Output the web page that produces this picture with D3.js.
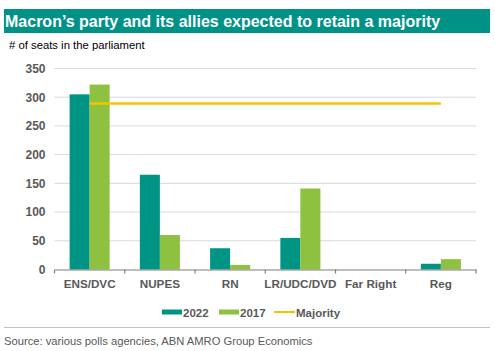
<!DOCTYPE html>
<html>
<head>
<meta charset="utf-8">
<script src="https://cdn.jsdelivr.net/npm/d3@7"></script>
<style>
  body { margin: 0; background: #fff; }
  svg { font-family: "Liberation Sans", Arial, sans-serif; }
</style>
</head>
<body>
<div id="chart"></div>
<script>
// chart data
var parties = ["ENS/DVC", "NUPES", "RN", "LR/UDC/DVD", "Far Right", "Reg"];
var seats2022 = [305, 165, 37, 55, 0, 10];
var seats2017 = [322, 60, 8, 141, 0, 18];
var majority = 289;
var yTicks = [0, 50, 100, 150, 200, 250, 300, 350];

var svgWidth = 495;
var svgHeight = 351;

var margin = { top: 68.5, right: 19, bottom: 81.5, left: 54.5 };
var width = svgWidth - margin.left - margin.right;
var height = svgHeight - margin.top - margin.bottom;

var svg = d3.select("#chart")
  .append("svg")
  .attr("width", svgWidth)
  .attr("height", svgHeight);

// title band
svg.append("rect")
  .attr("x", 4).attr("y", 9)
  .attr("width", 486).attr("height", 24)
  .attr("fill", "#009286");

svg.append("text")
  .attr("x", 5).attr("y", 27)
  .attr("fill", "#fff")
  .style("font-size", "16px")
  .style("font-weight", "bold")
  .text("Macron\u2019s party and its allies expected to retain a majority");

svg.append("text")
  .attr("x", 9).attr("y", 49)
  .attr("fill", "#000")
  .style("font-size", "11.3px")
  .text("# of seats in the parliament");

var chartGroup = svg.append("g")
  .attr("transform", `translate(${margin.left}, ${margin.top})`);

var x0 = d3.scaleBand()
  .domain(parties)
  .range([0, width])
  .paddingInner(0.43)
  .paddingOuter(0.215);

var xAxisScale = d3.scaleBand()
  .domain(parties)
  .range([0, width]);

var x1 = d3.scaleBand()
  .domain(["2022", "2017"])
  .range([0, x0.bandwidth()]);

var y = d3.scaleLinear()
  .domain([0, 350])
  .range([height, 0]);

// gridlines
chartGroup.selectAll(".grid")
  .data(yTicks.slice(1))
  .enter()
  .append("line")
  .attr("x1", 0).attr("x2", width)
  .attr("y1", d => y(d)).attr("y2", d => y(d))
  .attr("stroke", "#d9d9d9")
  .attr("stroke-width", 1);

// y labels
var leftAxis = d3.axisLeft(y).tickValues(yTicks).tickSize(0).tickPadding(9);
var yAxisG = chartGroup.append("g").call(leftAxis);
yAxisG.select(".domain").remove();
yAxisG.selectAll("text")
  .attr("fill", "#595959")
  .style("font-size", "12px")
  .style("font-weight", "bold")
  .style("font-family", "'Liberation Sans', Arial, sans-serif");

// bars
var series = [
  { key: "2022", values: seats2022, color: "#009484" },
  { key: "2017", values: seats2017, color: "#8dc13f" }
];

series.forEach(function(s) {
  chartGroup.selectAll(".bar" + s.key)
    .data(parties)
    .enter()
    .append("rect")
    .attr("x", d => x0(d) + x1(s.key))
    .attr("y", (d, i) => y(s.values[i]))
    .attr("width", x1.bandwidth())
    .attr("height", (d, i) => height - y(s.values[i]))
    .attr("fill", s.color);
});

// majority line
var line = d3.line()
  .x(d => xAxisScale(d) + xAxisScale.bandwidth() / 2)
  .y(() => y(majority));

chartGroup.append("path")
  .datum(parties)
  .attr("d", line)
  .attr("fill", "none")
  .attr("stroke", "#f5c400")
  .attr("stroke-width", 2.5);

// x axis
var bottomAxis = d3.axisBottom(xAxisScale).tickSize(0).tickPadding(10);
var xAxisG = chartGroup.append("g")
  .attr("transform", `translate(0, ${height})`)
  .call(bottomAxis);
xAxisG.select(".domain").attr("stroke", "#7f7f7f").attr("stroke-width", 1.2);
xAxisG.selectAll("text")
  .attr("fill", "#595959")
  .style("font-size", "11.7px")
  .style("font-weight", "bold")
  .style("font-family", "'Liberation Sans', Arial, sans-serif");

// tick marks at category boundaries
var boundaries = parties.map(d => xAxisScale(d)).concat([width]);
chartGroup.selectAll(".xtick")
  .data(boundaries)
  .enter()
  .append("line")
  .attr("x1", d => d).attr("x2", d => d)
  .attr("y1", height).attr("y2", height + 4)
  .attr("stroke", "#7f7f7f")
  .attr("stroke-width", 1.2);

// legend
var legendItems = [
  { label: "2022", color: "#009484", type: "rect", x: 162 },
  { label: "2017", color: "#8dc13f", type: "rect", x: 219 },
  { label: "Majority", color: "#f5c400", type: "line", x: 274 }
];

var legend = svg.append("g");
legendItems.forEach(function(item) {
  if (item.type === "rect") {
    legend.append("rect")
      .attr("x", item.x).attr("y", 309.5)
      .attr("width", 20).attr("height", 5)
      .attr("fill", item.color);
  } else {
    legend.append("line")
      .attr("x1", item.x).attr("x2", item.x + 21)
      .attr("y1", 312).attr("y2", 312)
      .attr("stroke", item.color)
      .attr("stroke-width", 2);
  }
  legend.append("text")
    .attr("x", item.x + (item.type === "rect" ? 21 : 22))
    .attr("y", 316.5)
    .attr("fill", "#595959")
    .style("font-size", "11.5px")
    .style("font-weight", "bold")
    .text(item.label);
});

// separator and source
svg.append("line")
  .attr("x1", 4).attr("x2", 490)
  .attr("y1", 327.5).attr("y2", 327.5)
  .attr("stroke", "#bfbfbf")
  .attr("stroke-width", 1);

svg.append("text")
  .attr("x", 4).attr("y", 345)
  .attr("fill", "#595959")
  .style("font-size", "11.2px")
  .text("Source: various polls agencies, ABN AMRO Group Economics");
</script>
</body>
</html>
